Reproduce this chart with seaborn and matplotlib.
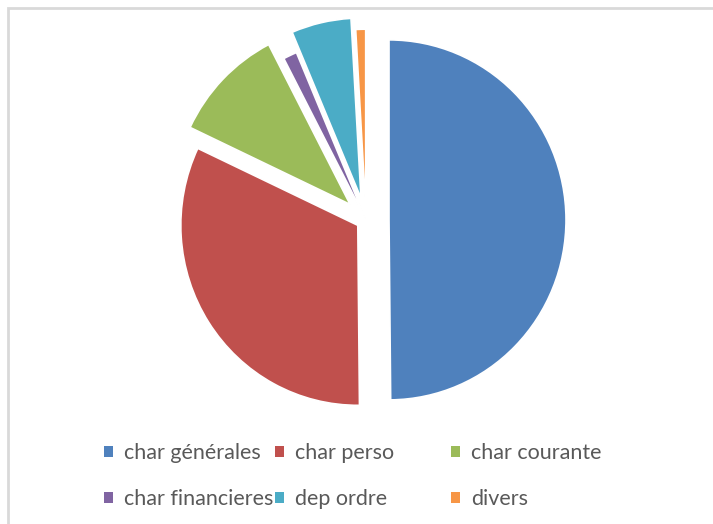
import numpy as np
import seaborn as sns
import matplotlib.pyplot as plt
from matplotlib.patches import Patch, Rectangle

labels = ['char générales', 'char perso', 'char courante', 'char financieres', 'dep ordre', 'divers']
values = [49.8, 32.15, 10.35, 1.25, 5.45, 0.9]
colors = ['#4F81BD', '#C0504D', '#9BBB59', '#8064A2', '#4BACC6', '#F79646']
# each slice pulled out by its own amount, as in the original
explode = [0.13, 0.055, 0.125, 0.01, 0.125, 0.06]

sns.set_theme(style='white')
plt.rcParams['font.family'] = ['Lato', 'DejaVu Sans']

W, H = 713, 524
fig = plt.figure(figsize=(W / 100, H / 100), dpi=100)
fig.patch.set_facecolor('white')

# chart area border (right and bottom edges fall outside the picture)
fig.patches.append(Rectangle((8 / W, -0.1), 1.2, 1.1 - 8.5 / H, transform=fig.transFigure,
                             fill=False, edgecolor='#D9D9D9', linewidth=2))

# pie axes: centre at ~(366, 220) px, radius ~177 px wide, ~180 px tall
sx = 2.5 * 177
sy = 2.5 * 180
cx, cy = 366, 220
ax = fig.add_axes([(cx - sx / 2) / W, (H - cy - sy / 2) / H, sx / W, sy / H])
ax.pie(values, colors=colors, startangle=90, counterclock=False,
       explode=explode, wedgeprops=dict(linewidth=1.2, edgecolor='white'))
ax.set_aspect('auto')
ax.set_xlim(-1.25, 1.25)
ax.set_ylim(-1.25, 1.25)
ax.axis('off')

# legend: three fixed columns, two rows
handles = [Patch(facecolor=c, edgecolor='none') for c in colors]
cols = [(0, 3), (1, 4), (2, 5)]
col_x = [104, 275, 451]
for (i, j), x in zip(cols, col_x):
    fig.legend([handles[i], handles[j]], [labels[i], labels[j]],
               loc='upper left', bbox_to_anchor=(x / W, 1 - 443 / H),
               frameon=False, fontsize=15.5, labelcolor='#595959',
               handlelength=0.42, handleheight=0.42, handletextpad=0.5,
               labelspacing=1.2, borderpad=0, borderaxespad=0)

fig.savefig('out.png', dpi=100)
